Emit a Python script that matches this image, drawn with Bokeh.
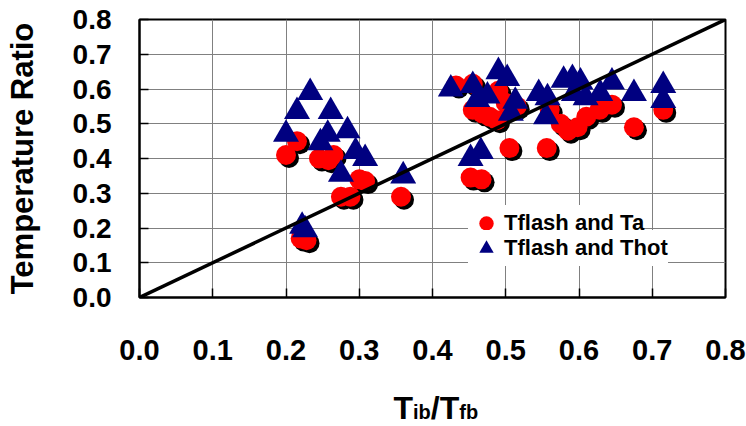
from bokeh.plotting import figure
from bokeh.models import Range1d, FixedTicker, PrintfTickFormatter, Label, Legend, LegendItem
from bokeh.layouts import column
from bokeh.embed import file_html
from bokeh.resources import INLINE

# Tflash and Ta (circles)
ta_x = [0.200, 0.215, 0.220, 0.228, 0.245, 0.258, 0.265, 0.275, 0.288, 0.300, 0.308, 0.357,
        0.432, 0.455, 0.490, 0.452, 0.467, 0.455, 0.468, 0.478, 0.488, 0.500, 0.505, 0.515,
        0.556, 0.560, 0.575, 0.585, 0.598, 0.610, 0.628, 0.645, 0.675, 0.715]
ta_y = [0.41, 0.45, 0.17, 0.165, 0.40, 0.395, 0.41, 0.29, 0.29, 0.34, 0.335, 0.29,
        0.61, 0.615, 0.595, 0.345, 0.34, 0.54, 0.53, 0.52, 0.51, 0.56, 0.43, 0.55,
        0.43, 0.54, 0.50, 0.48, 0.49, 0.52, 0.54, 0.555, 0.49, 0.54]

# Tflash and Thot (triangles)
th_x = [0.200, 0.215, 0.233, 0.222, 0.226, 0.247, 0.261, 0.257, 0.275, 0.284, 0.295, 0.308, 0.360,
        0.425, 0.455, 0.461, 0.475, 0.490, 0.502, 0.513, 0.507, 0.452, 0.466, 0.545, 0.557,
        0.555, 0.579, 0.591, 0.602, 0.593, 0.609, 0.629, 0.645, 0.675, 0.715, 0.715]
th_y = [0.47, 0.535, 0.59, 0.205, 0.195, 0.445, 0.535, 0.47, 0.355, 0.48, 0.42, 0.40, 0.35,
        0.60, 0.61, 0.57, 0.58, 0.65, 0.63, 0.565, 0.53, 0.40, 0.42, 0.587, 0.575,
        0.52, 0.625, 0.63, 0.62, 0.587, 0.575, 0.587, 0.62, 0.587, 0.61, 0.567]

ticks = [0.0, 0.1, 0.2, 0.3, 0.4, 0.5, 0.6, 0.7, 0.8]
line_x = [0.0, 0.8]
line_y = [0.0, 0.8]

FONT = "Liberation Sans"
W, H = 746, 426
H1 = 380
BL, BR, BT, BB = 139, 21, 19, 83
fw, fh = W - BL - BR, H1 - BT - BB

p = figure(width=W, height=H1, output_backend="svg", toolbar_location=None,
           x_range=Range1d(0, 0.8), y_range=Range1d(0, 0.8),
           min_border_left=BL, min_border_right=BR, min_border_top=BT, min_border_bottom=BB)
p.background_fill_color = "white"
p.border_fill_color = "white"
p.outline_line_color = "black"
p.outline_line_width = 2

for ax in (p.xaxis[0], p.yaxis[0]):
    ax.ticker = FixedTicker(ticks=ticks)
    ax.formatter = PrintfTickFormatter(format="%.1f")
    ax.axis_line_color = "black"
    ax.axis_line_width = 2
    ax.major_tick_in = 9
    ax.major_tick_out = 0
    ax.major_tick_line_width = 1.5
    ax.major_tick_line_color = "black"
    ax.minor_tick_line_color = None
    ax.major_label_text_font = FONT
    ax.major_label_text_font_style = "bold"
    ax.major_label_text_color = "black"

p.xaxis.major_label_text_font_size = "29px"
p.xaxis.major_label_standoff = 42
p.yaxis.major_label_text_font_size = "28px"
p.yaxis.major_label_standoff = 28
p.yaxis.axis_label = "Temperature Ratio"
p.yaxis.axis_label_text_font = FONT
p.yaxis.axis_label_text_font_style = "bold"
p.yaxis.axis_label_text_font_size = "31px"
p.yaxis.axis_label_standoff = 30
p.yaxis.axis_label_text_color = "black"

p.grid.grid_line_color = "#808080"
p.grid.grid_line_width = 1
p.xgrid.ticker = FixedTicker(ticks=ticks)
p.ygrid.ticker = FixedTicker(ticks=ticks)

# shadow offset (3 px right, 3 px down) in data units
dx = 3 * 0.8 / fw
dy = 3 * 0.8 / fh
p.scatter([x + dx for x in ta_x], [y - dy for y in ta_y], marker="circle", size=20,
          fill_color="black", line_color=None)
r_ta = p.scatter(ta_x, ta_y, marker="circle", size=20, fill_color="#FF0000", line_color=None)
r_th = p.scatter(th_x, th_y, marker="triangle", size=26, fill_color="#000080", line_color=None)
p.line(line_x, line_y, line_color="black", line_width=3.5)

G = 36
common = dict(border_line_color=None, background_fill_color="white", background_fill_alpha=1.0,
              padding=0, margin=0, spacing=0, glyph_width=G, glyph_height=G, label_standoff=0,
              label_text_font=FONT, label_text_font_style="bold",
              label_text_font_size="22px", label_text_color="black")
lx = 468 - BL
leg1 = Legend(items=[LegendItem(label="Tflash and Ta", renderers=[r_ta])],
              location=(lx, 297 - 223 - G // 2), **common)
leg2 = Legend(items=[LegendItem(label="Tflash and Thot", renderers=[r_th])],
              location=(lx, 297 - 248 - G // 2), **common)
p.add_layout(leg1, "center")
p.add_layout(leg2, "center")

# x axis title with subscripts: T_ib / T_fb, drawn in a strip below the chart
H2 = H - H1
t = figure(width=W, height=H2, output_backend="svg", toolbar_location=None,
           x_range=Range1d(BL, W - BR), y_range=Range1d(0, H2),
           x_axis_type=None, y_axis_type=None,
           min_border_left=BL, min_border_right=BR, min_border_top=0, min_border_bottom=0)
t.grid.visible = False
t.outline_line_color = None
t.background_fill_color = "white"
t.border_fill_color = "white"

big, small = 32, 20
x0 = 393
base = 19
parts = [("T", big, 0), ("ib", small, -4), ("/T", big, 0), ("fb", small, -4)]
widths = {"T": 0.611, "ib": 0.889, "/T": 0.889, "fb": 0.944}
cx = x0
for txt, sz, off in parts:
    t.add_layout(Label(x=cx, y=base + off, text=txt,
                       text_font=FONT, text_font_style="bold", text_font_size=f"{sz}px",
                       text_color="black", text_baseline="alphabetic", text_align="left"))
    cx += widths[txt] * sz

layout = column(p, t, spacing=0)
open("out.html", "w").write(file_html(layout, INLINE))
